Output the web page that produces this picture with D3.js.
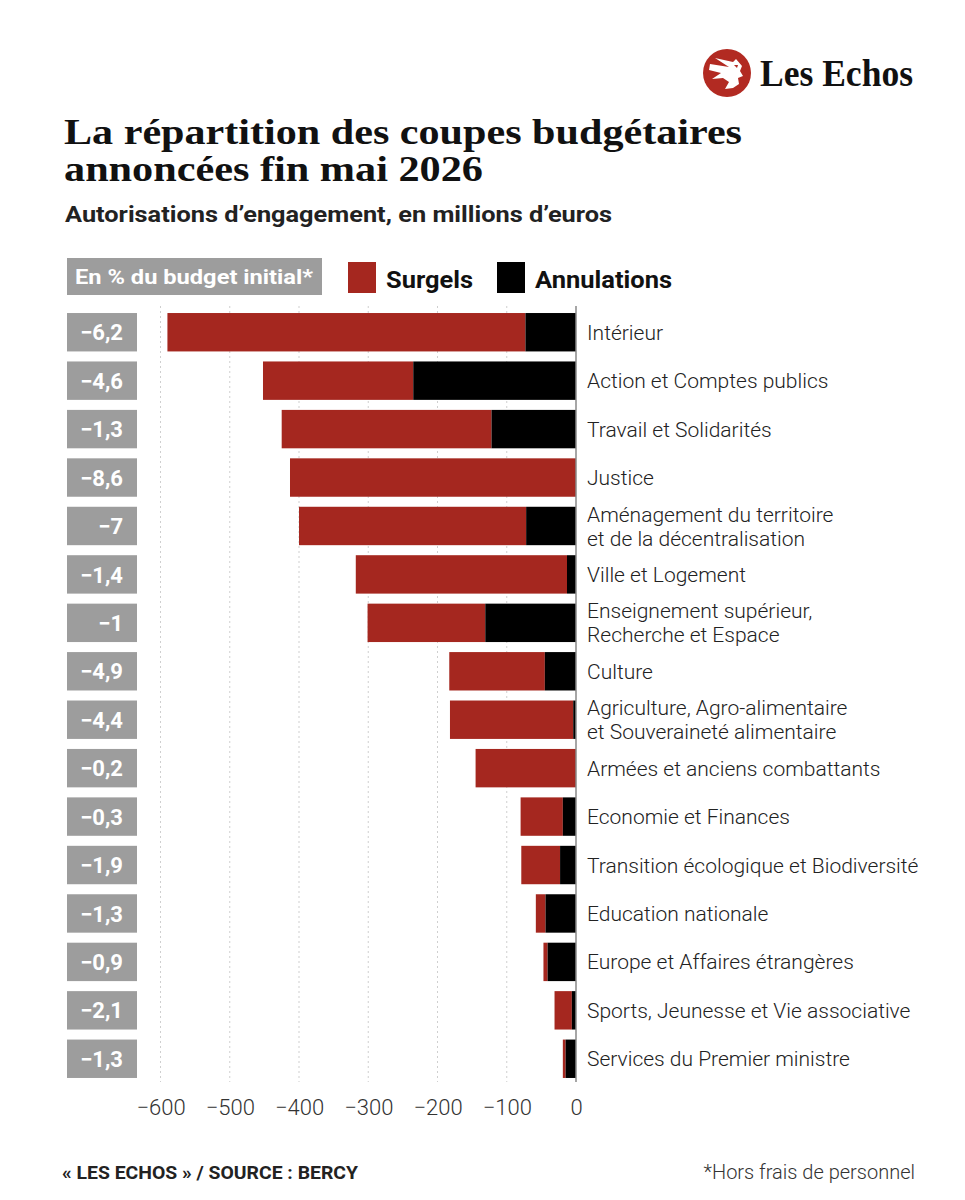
<!DOCTYPE html>
<html>
<head>
<meta charset="utf-8">
<script src="https://cdn.jsdelivr.net/npm/d3@7"></script>
<style>
  body { margin: 0; background: #fff; }
  svg { display: block; }
</style>
</head>
<body>
<svg width="965" height="1200"></svg>
<script>
// budget cuts, millions of euros
var categories = [
  "Intérieur",
  "Action et Comptes publics",
  "Travail et Solidarités",
  "Justice",
  "Aménagement du territoire\net de la décentralisation",
  "Ville et Logement",
  "Enseignement supérieur,\nRecherche et Espace",
  "Culture",
  "Agriculture, Agro-alimentaire\net Souveraineté alimentaire",
  "Armées et anciens combattants",
  "Economie et Finances",
  "Transition écologique et Biodiversité",
  "Education nationale",
  "Europe et Affaires étrangères",
  "Sports, Jeunesse et Vie associative",
  "Services du Premier ministre"
];
var surgels     = [517, 217, 303, 413, 328, 305, 170, 138, 178, 145, 61, 56, 14, 6, 25, 4];
var annulations = [73, 235, 122, 0, 72, 13, 131, 45, 4, 0, 19, 23, 44, 41, 6, 15];
var pctBudget   = ["−6,2", "−4,6", "−1,3", "−8,6", "−7", "−1,4", "−1", "−4,9",
                   "−4,4", "−0,2", "−0,3", "−1,9", "−1,3", "−0,9", "−2,1", "−1,3"];
var tickValues  = [-600, -500, -400, -300, -200, -100, 0];

var data = categories.map((name, i) => ({
  name, surgel: surgels[i], annul: annulations[i], pct: pctBudget[i]
}));

var red = "#a5271f";
var grey = "#9d9d9d";
var sans = "Roboto, 'Noto Sans', sans-serif";
var serif = "'Liberation Serif', 'DejaVu Serif', serif";

var x = d3.scaleLinear()
    .domain([-600, 0])
    .range([160.5, 576]);
var y = d3.scaleBand()
    .domain(categories)
    .range([303, 1088])
    .padding(0.207);

var plotTop = 306, plotBottom = 1082;

// squeezed text helper: keeps the reference's tall, narrow letterforms
function fitText(sel, width) {
  return sel.attr("textLength", width).attr("lengthAdjust", "spacingAndGlyphs");
}

(function chart() {
  var svg = d3.select("svg");

  // logo
  var logo = svg.append("g").attr("transform", "translate(727,73)");
  logo.append("circle").attr("r", 24).attr("fill", "#b22a22");
  logo.append("path")
      .attr("fill", "#fff")
      .attr("d", "M-17,-9 L2,-6 L-12,-15 L6,-11 L9,-14 L15,-7 L13,-2 L16,3 L11,5 L12,11 L6,15 L-2,16 L2,9 L-4,5 L-15,6 L-6,0 L-18,-3 Z");
  logo.append("path")
      .attr("fill", "#b22a22")
      .attr("d", "M7,-8 L11,-8 L10,-5 Z");
  svg.append("text")
      .attr("x", 760).attr("y", 86)
      .attr("font-family", serif).attr("font-weight", "bold")
      .attr("font-size", 38).attr("fill", "#111")
      .call(fitText, 153)
      .text("Les Echos");

  // title
  svg.append("text")
      .attr("x", 64).attr("y", 144)
      .attr("font-family", serif).attr("font-weight", "bold")
      .attr("font-size", 36).attr("fill", "#111")
      .call(fitText, 678)
      .text("La répartition des coupes budgétaires");
  svg.append("text")
      .attr("x", 64).attr("y", 181)
      .attr("font-family", serif).attr("font-weight", "bold")
      .attr("font-size", 36).attr("fill", "#111")
      .call(fitText, 419)
      .text("annoncées fin mai 2026");
  svg.append("text")
      .attr("x", 65).attr("y", 222)
      .attr("font-family", sans).attr("font-weight", "bold")
      .attr("font-size", 22).attr("fill", "#222")
      .call(fitText, 547)
      .text("Autorisations d’engagement, en millions d’euros");

  // legend
  svg.append("rect")
      .attr("x", 67).attr("y", 258).attr("width", 255).attr("height", 37)
      .attr("fill", grey);
  svg.append("text")
      .attr("x", 75).attr("y", 284)
      .attr("font-family", sans).attr("font-weight", "bold")
      .attr("font-size", 21).attr("fill", "#fff")
      .call(fitText, 238)
      .text("En % du budget initial*");
  var legendItems = [
    {label: "Surgels", color: red, x: 348, w: 87},
    {label: "Annulations", color: "#000", x: 497, w: 137}
  ];
  legendItems.forEach(d => {
    svg.append("rect")
        .attr("x", d.x).attr("y", 262).attr("width", 28).attr("height", 31)
        .attr("fill", d.color);
    svg.append("text")
        .attr("x", d.x + 38).attr("y", 288)
        .attr("font-family", sans).attr("font-weight", "bold")
        .attr("font-size", 23).attr("fill", "#111")
        .call(fitText, d.w)
        .text(d.label);
  });

  // grid
  svg.append("g")
    .selectAll("line")
    .data(tickValues.filter(v => v !== 0))
    .join("line")
      .attr("x1", d => x(d)).attr("x2", d => x(d))
      .attr("y1", plotTop).attr("y2", plotBottom)
      .attr("stroke", "#cfcfcf")
      .attr("stroke-width", 1)
      .attr("stroke-dasharray", "2,3");

  // bars
  var rows = svg.append("g")
    .selectAll("g")
    .data(data)
    .join("g")
      .attr("transform", d => `translate(0,${y(d.name)})`);

  rows.append("rect")
      .attr("x", d => x(-d.annul - d.surgel))
      .attr("width", d => x(-d.annul) - x(-d.annul - d.surgel))
      .attr("height", y.bandwidth())
      .attr("fill", red);

  rows.append("rect")
      .attr("x", d => x(-d.annul))
      .attr("width", d => x(0) - x(-d.annul))
      .attr("height", y.bandwidth())
      .attr("fill", "#000");

  // % of initial budget boxes
  rows.append("rect")
      .attr("x", 67).attr("width", 70)
      .attr("height", y.bandwidth())
      .attr("fill", grey);
  rows.append("text")
      .attr("x", 123)
      .attr("y", y.bandwidth() / 2)
      .attr("dy", "0.37em")
      .attr("text-anchor", "end")
      .attr("font-family", sans).attr("font-weight", "bold")
      .attr("font-size", 22).attr("fill", "#fff")
      .text(d => d.pct);

  // category labels
  rows.append("text")
      .attr("font-family", sans).attr("font-weight", 300)
      .attr("font-size", 21).attr("fill", "#222")
      .each(function(d) {
        var lines = d.name.split("\n");
        var t = d3.select(this);
        lines.forEach((l, i) => {
          t.append("tspan")
              .attr("x", 587)
              .attr("y", y.bandwidth() / 2 + (i - (lines.length - 1) / 2) * 24)
              .attr("dy", "0.36em")
              .text(l);
        });
      });

  // zero line
  svg.append("line")
      .attr("x1", x(0)).attr("x2", x(0))
      .attr("y1", plotTop).attr("y2", plotBottom)
      .attr("stroke", "#888").attr("stroke-width", 1.5);

  // x axis
  svg.append("g")
      .attr("transform", `translate(0,${plotBottom + 9})`)
      .call(d3.axisBottom(x).tickValues(tickValues).tickSize(0).tickPadding(8))
      .call(g => g.select(".domain").remove())
      .call(g => g.selectAll("text")
          .attr("font-family", sans).attr("font-weight", 300)
          .attr("font-size", 22).attr("fill", "#333"));

  // footer
  svg.append("text")
      .attr("x", 62).attr("y", 1179)
      .attr("font-family", sans).attr("font-weight", "bold")
      .attr("font-size", 19).attr("fill", "#222")
      .call(fitText, 296)
      .text("« LES ECHOS » / SOURCE : BERCY");
  svg.append("text")
      .attr("x", 915).attr("y", 1179)
      .attr("text-anchor", "end")
      .attr("font-family", sans).attr("font-weight", 300)
      .attr("font-size", 20).attr("fill", "#333")
      .text("*Hors frais de personnel");

  return svg.node();
})();
</script>
</body>
</html>
